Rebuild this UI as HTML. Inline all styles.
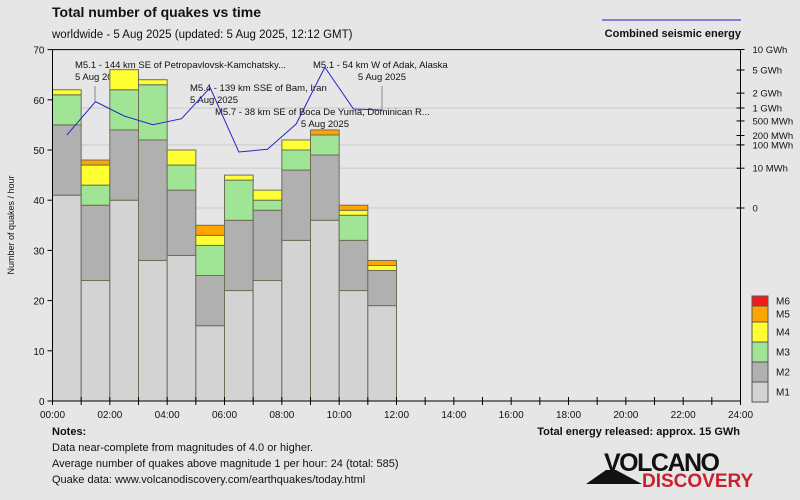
<!DOCTYPE html>
<html><head><meta charset="utf-8"><style>
body{margin:0;background:#e6e6e6;font-family:"Liberation Sans",sans-serif}
svg{display:block}
text{font-family:"Liberation Sans",sans-serif;fill:#111}
</style></head><body>
<svg id="chart" width="800" height="500" viewBox="0 0 800 500" xmlns="http://www.w3.org/2000/svg">
<rect width="800" height="500" fill="#e6e6e6"/>
<text x="52" y="17" font-size="14" font-weight="bold">Total number of quakes vs time</text>
<text x="52" y="38" font-size="11.5">worldwide -  5 Aug 2025 (updated: 5 Aug 2025, 12:12 GMT)</text>
<line x1="602" y1="20" x2="741" y2="20" stroke="#1a1ad0" stroke-width="1"/>
<text x="741" y="37" font-size="11" font-weight="bold" text-anchor="end" fill="#333">Combined seismic energy</text>
<g id="grid"></g>
<g id="annots" font-size="9.5"></g>
<g id="bars"></g>
<g id="energy"></g>
<g id="axes"></g>
<g id="legend"></g>
<text x="14" y="225" font-size="9" transform="rotate(-90 14 225)" text-anchor="middle">Number of quakes / hour</text>
<text x="52" y="435" font-size="11" font-weight="bold">Notes:</text>
<text x="52" y="451" font-size="11">Data near-complete from magnitudes of 4.0 or higher.</text>
<text x="52" y="467" font-size="11">Average number of quakes above magnitude 1 per hour: 24 (total: 585)</text>
<text x="52" y="483" font-size="11">Quake data: www.volcanodiscovery.com/earthquakes/today.html</text>
<text x="740" y="435" font-size="11" font-weight="bold" text-anchor="end" fill="#222">Total energy released: approx. 15 GWh</text>
<g>
<polygon points="586,484 606,470 616,470 642,484" fill="#111"/>
<text x="604" y="471" font-size="25" font-weight="bold" style="fill:#111;letter-spacing:-1.5px">VOLCANO</text>
<text x="642" y="487" font-size="19" font-weight="bold" style="fill:#c8202c">DISCOVERY</text>
</g>
</svg>
<script>
const hours=[0,1,2,3,4,5,6,7,8,9,10,11];
const m1=[41,24,40,28,29,15,22,24,32,36,22,19];
const m2=[14,15,14,24,13,10,14,14,14,13,10,7];
const m3=[6,4,8,11,5,6,8,2,4,4,5,0];
const m4=[1,4,4,1,3,2,1,2,2,0,1,1];
const m5=[0,1,0,0,0,2,0,0,0,1,1,1];
const m6=[0,0,0,0,0,0,0,0,0,0,0,0];
const energyMWh=[207,1360,659,401,567,2520,55,70,418,5520,951,904];
const yTicks=[0,10,20,30,40,50,60,70];
const xTickLabels=["00:00","02:00","04:00","06:00","08:00","10:00","12:00","14:00","16:00","18:00","20:00","22:00","24:00"];
const eTicks=[10000,5000,2000,1000,500,200,100,10,0];
const eTickLabels=["10 GWh","5 GWh","2 GWh","1 GWh","500 MWh","200 MWh","100 MWh","10 MWh","0"];
const magNames=["M1","M2","M3","M4","M5","M6"];
const magColors=["#d3d3d3","#b0b0b0","#a0e496","#ffff33","#ffa500","#ee1c1c"];

const NS="http://www.w3.org/2000/svg";
const X0=52.5,X1=740.5,Y0=401,Y1=49.6;
const xs=h=>X0+(X1-X0)*h/24;
const ys=v=>Y0-(Y0-Y1)*v/70;
const ye=mwh=>208-100*Math.pow(mwh/1000,0.2);
function mk(tag,attrs,parent){const e=document.createElementNS(NS,tag);for(const k in attrs)e.setAttribute(k,attrs[k]);parent.appendChild(e);return e;}
const G=id=>document.getElementById(id);

[1000,100,10,0].forEach(v=>{const l=mk('line',{x1:X0,x2:X1,y1:ye(v),y2:ye(v),stroke:'#d4d4d4','stroke-width':1.5},G('grid'));

});

const ann=[
 [75,68,"M5.1 - 144 km SE of Petropavlovsk-Kamchatsky...","start"],[75,80,"5 Aug 2025","start"],
 [190,91,"M5.4 - 139 km SSE of Bam, Iran","start"],[190,103,"5 Aug 2025","start"],
 [215,115,"M5.7 - 38 km SE of Boca De Yuma, Dominican R...","start"],[349,127,"5 Aug 2025","end"],
 [313,68,"M5.1 - 54 km W of Adak, Alaska","start"],[406,80,"5 Aug 2025","end"]];
ann.forEach(a=>{const t=mk('text',{x:a[0],y:a[1],'text-anchor':a[3]},G('annots'));t.textContent=a[2];

});
[[95,86,101],[382,86,110]].forEach(l=>{const e=mk('line',{x1:l[0],x2:l[0],y1:l[1],y2:l[2],stroke:'#888'},G('annots'));

});

const series=[m1,m2,m3,m4,m5,m6];
hours.forEach((h,i)=>{let base=0;series.forEach((s,k)=>{const v=s[i];if(v<=0)return;
 const r=mk('rect',{x:xs(h),y:ys(base+v),width:xs(h+1)-xs(h),height:ys(base)-ys(base+v),fill:magColors[k],stroke:'#6e6e58','stroke-width':1},G('bars'));
 
 
 base+=v;});});

const pts=hours.map((h,i)=>xs(h+0.5)+','+ye(energyMWh[i])).join(' ');
const pl=mk('polyline',{points:pts,fill:'none',stroke:'#2626c8','stroke-width':1},G('energy'));



const ax=G('axes');
mk('line',{x1:X0,x2:X0,y1:Y1,y2:Y0+4,stroke:'#000'},ax);
mk('line',{x1:X0,x2:X1,y1:Y1,y2:Y1,stroke:'#000'},ax);
mk('line',{x1:X0,x2:X1,y1:Y0,y2:Y0,stroke:'#000'},ax);
mk('line',{x1:X1,x2:X1,y1:Y1,y2:Y0,stroke:'#000'},ax);
yTicks.forEach(v=>{mk('line',{x1:X0-5,x2:X0,y1:ys(v),y2:ys(v),stroke:'#000'},ax);
 const t=mk('text',{x:X0-8,y:ys(v)+4,'font-size':10,'text-anchor':'end'},ax);t.textContent=v;
 
 });
for(let h=0;h<=24;h++){mk('line',{x1:xs(h),x2:xs(h),y1:Y0-4,y2:Y0+4,stroke:'#000'},ax);}
xTickLabels.forEach((l,i)=>{const t=mk('text',{x:xs(i*2),y:Y0+17,'font-size':10,'text-anchor':'middle'},ax);t.textContent=l;
 
 });
eTicks.forEach((v,i)=>{mk('line',{x1:X1-4,x2:X1+4,y1:ye(v),y2:ye(v),stroke:'#000'},ax);
 const t=mk('text',{x:X1+12,y:ye(v)+3.5,'font-size':9.5},ax);t.textContent=eTickLabels[i];
 
 });

const lg=[[296,306],[306,322],[322,342],[342,362],[362,382],[382,402]];
magNames.forEach((n,k)=>{const idx=5-k;const b=lg[idx];
 const r=mk('rect',{x:752,y:b[0],width:16,height:b[1]-b[0],fill:magColors[k],stroke:'#555'},G('legend'));
 
 
 const t=mk('text',{x:776,y:(b[0]+b[1])/2+3.5,'font-size':10},G('legend'));t.textContent=n;
 
 });
</script>
</body></html>
